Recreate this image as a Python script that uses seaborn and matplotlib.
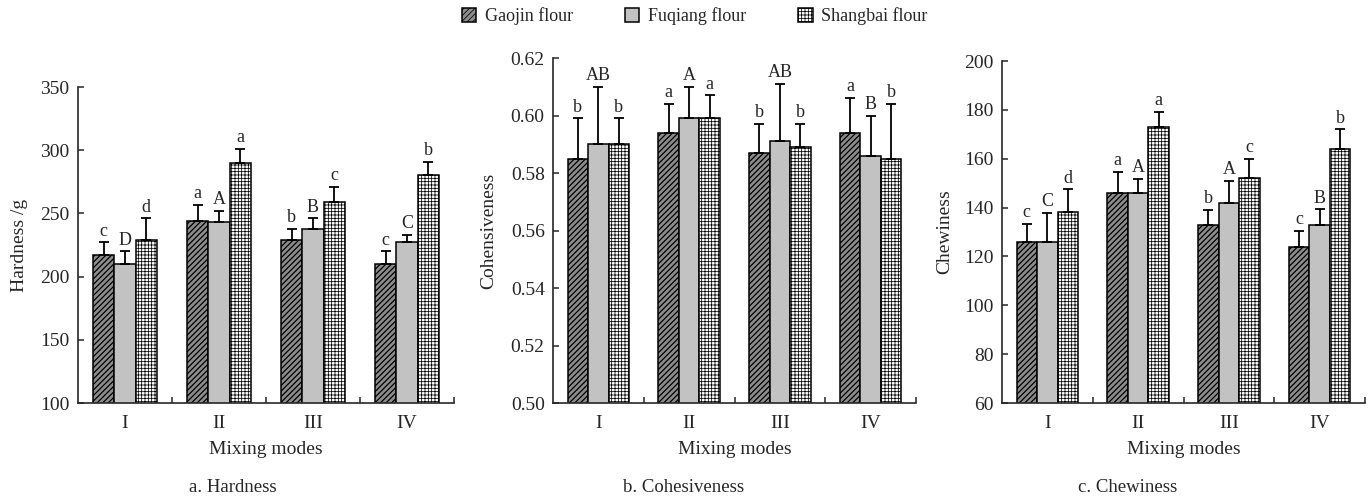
import numpy as np
import pandas as pd
import matplotlib
matplotlib.use("Agg")
import matplotlib.pyplot as plt
import seaborn as sns

modes = ["I", "II", "III", "IV"]
flours = ["Gaojin flour", "Fuqiang flour", "Shangbai flour"]

hard_gaojin = [217, 244, 229, 210]
hard_fuqiang = [210, 243, 238, 227]
hard_shangbai = [229, 290, 259, 280]
hard_sd_gaojin = [10, 13, 8.5, 10]
hard_sd_fuqiang = [10, 9, 8, 6]
hard_sd_shangbai = [17, 11, 12, 11]
hard_letters_gaojin = ["c", "a", "b", "c"]
hard_letters_fuqiang = ["D", "A", "B", "C"]
hard_letters_shangbai = ["d", "a", "c", "b"]

coh_gaojin = [0.585, 0.594, 0.587, 0.594]
coh_fuqiang = [0.590, 0.599, 0.591, 0.586]
coh_shangbai = [0.590, 0.599, 0.589, 0.585]
coh_sd_gaojin = [0.014, 0.010, 0.010, 0.012]
coh_sd_fuqiang = [0.020, 0.011, 0.020, 0.014]
coh_sd_shangbai = [0.009, 0.008, 0.008, 0.019]
coh_letters_gaojin = ["b", "a", "b", "a"]
coh_letters_fuqiang = ["AB", "A", "AB", "B"]
coh_letters_shangbai = ["b", "a", "b", "b"]

chew_gaojin = [126, 146, 133, 124]
chew_fuqiang = [126, 146, 142, 133]
chew_shangbai = [138, 173, 152, 164]
chew_sd_gaojin = [7.3, 8.6, 6.2, 6.4]
chew_sd_fuqiang = [11.8, 5.8, 9.0, 6.3]
chew_sd_shangbai = [9.4, 6.3, 7.8, 8.0]
chew_letters_gaojin = ["c", "a", "b", "c"]
chew_letters_fuqiang = ["C", "A", "A", "B"]
chew_letters_shangbai = ["d", "a", "c", "b"]

sns.set_style("ticks")
plt.rcParams["font.family"] = ["Liberation Serif", "DejaVu Serif"]
plt.rcParams["hatch.linewidth"] = 0.55
plt.rcParams["axes.linewidth"] = 1.2

fig = plt.figure(figsize=(13.7, 4.98), dpi=100)

W, H = 1370, 498
def axes_px(left, right, top, bottom):
    return fig.add_axes([left / W, 1 - bottom / H, (right - left) / W, (bottom - top) / H])

facecolors = ["#8c8c8c", "#c2c2c2", "#ffffff"]
hatches = ["//////", "", "+++++"]

panels = [
    dict(box=(78, 454, 87, 403),
         vals=[hard_gaojin, hard_fuqiang, hard_shangbai],
         sds=[hard_sd_gaojin, hard_sd_fuqiang, hard_sd_shangbai],
         letters=[hard_letters_gaojin, hard_letters_fuqiang, hard_letters_shangbai],
         ylim=(100, 350), yticks=np.arange(100, 351, 50), fmt="{:.0f}",
         ylabel="Hardness /g", ylx=-0.133, caption="a. Hardness", capx=233),
    dict(box=(553, 916, 58, 403),
         vals=[coh_gaojin, coh_fuqiang, coh_shangbai],
         sds=[coh_sd_gaojin, coh_sd_fuqiang, coh_sd_shangbai],
         letters=[coh_letters_gaojin, coh_letters_fuqiang, coh_letters_shangbai],
         ylim=(0.50, 0.62), yticks=np.arange(0.50, 0.621, 0.02), fmt="{:.2f}",
         ylabel="Cohensiveness", ylx=-0.154, caption="b. Cohesiveness", capx=684),
    dict(box=(1002, 1365, 61, 403),
         vals=[chew_gaojin, chew_fuqiang, chew_shangbai],
         sds=[chew_sd_gaojin, chew_sd_fuqiang, chew_sd_shangbai],
         letters=[chew_letters_gaojin, chew_letters_fuqiang, chew_letters_shangbai],
         ylim=(60, 200), yticks=np.arange(60, 201, 20), fmt="{:.0f}",
         ylabel="Chewiness", ylx=-0.135, caption="c. Chewiness", capx=1128),
]

legend_handles = None
for p in panels:
    ax = axes_px(*p["box"])
    df = pd.DataFrame({
        "mode": np.tile(modes, 3),
        "flour": np.repeat(flours, 4),
        "value": np.concatenate(p["vals"]),
        "sd": np.concatenate(p["sds"]),
        "letter": np.concatenate(p["letters"]),
    })
    sns.barplot(data=df, x="mode", y="value", hue="flour", order=modes,
                hue_order=flours, palette=facecolors, saturation=1,
                width=0.68, errorbar=None, edgecolor="black", linewidth=1.1,
                legend=False, ax=ax)
    bar_conts = list(ax.containers)[:3]
    for i, cont in enumerate(bar_conts):
        sub = df[df["flour"] == flours[i]]
        for j, bar in enumerate(cont):
            bar.set_hatch(hatches[i])
            bar.set_edgecolor("black")
            if i == 0:
                try:
                    bar.set_hatch_linewidth(0.9)
                except AttributeError:
                    pass
            xc = bar.get_x() + bar.get_width() / 2
            h = bar.get_height()
            sd = sub["sd"].iloc[j]
            ax.errorbar(xc, h, yerr=[[0], [sd]], fmt="none", ecolor="black",
                        elinewidth=1.3, capsize=3.5, capthick=1.3, zorder=3)
            ax.annotate(sub["letter"].iloc[j], (xc, h + sd), xytext=(0, 2),
                        textcoords="offset points", ha="center", va="bottom",
                        fontsize=13)
    if legend_handles is None:
        legend_handles = [cont[0] for cont in bar_conts]
    ax.set_xlim(-0.5, 3.5)
    ax.set_ylim(*p["ylim"])
    ax.set_yticks(p["yticks"])
    ax.set_yticklabels([p["fmt"].format(v) for v in p["yticks"]])
    ax.tick_params(axis="y", direction="in", length=4, width=1.1, pad=6, labelsize=14)
    ax.tick_params(axis="x", which="major", length=0, pad=9, labelsize=14)
    ax.set_xticks([0.5, 1.5, 2.5, 3.5], minor=True)
    ax.tick_params(axis="x", which="minor", direction="in", length=4, width=1.1)
    sns.despine(ax=ax)
    ax.set_ylabel(p["ylabel"], fontsize=14)
    ax.yaxis.set_label_coords(p["ylx"], 0.5)
    ax.set_xlabel("Mixing modes", fontsize=14)
    top, bottom = p["box"][2], p["box"][3]
    ax.xaxis.set_label_coords(0.5, -(441 - bottom) / (bottom - top))
    fig.text(p["capx"] / W, 1 - 487 / H, p["caption"], ha="center", va="center", fontsize=13.5)

fig.legend(legend_handles, flours, loc="center", bbox_to_anchor=(0.507, 0.968),
           ncol=3, frameon=False, fontsize=13, handlelength=0.8, handleheight=0.8,
           handletextpad=0.45, columnspacing=2.9)

fig.savefig("out.png", dpi=100)
